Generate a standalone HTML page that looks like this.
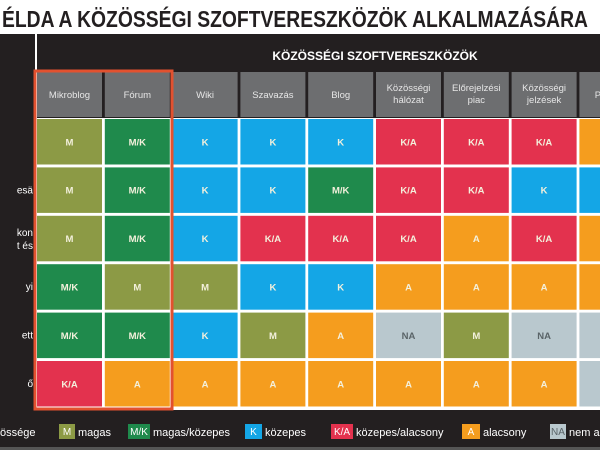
<!DOCTYPE html>
<html><head><meta charset="utf-8"><style>
html,body{margin:0;padding:0;background:#fff;}
svg{display:block;font-family:"Liberation Sans",sans-serif;}
</style></head><body>
<svg id="c" width="600" height="450" viewBox="0 0 600 450">
<rect x="0" y="0" width="600" height="450" fill="#fff"/>
<text x="2" y="27" font-size="23" font-weight="bold" fill="#231f20" textLength="586" lengthAdjust="spacingAndGlyphs">ÉLDA A KÖZÖSSÉGI SZOFTVERESZKÖZÖK ALKALMAZÁSÁRA</text>
<rect x="0" y="34" width="600" height="84" fill="#231f20"/>
<rect x="0" y="118" width="35" height="292" fill="#231f20"/>
<rect x="35" y="34" width="2" height="84" fill="#fff"/>
<text x="375" y="60" font-size="12" font-weight="bold" fill="#fff" text-anchor="middle">KÖZÖSSÉGI SZOFTVERESZKÖZÖK</text>
<g id="cells"></g>
<rect x="0" y="410" width="600" height="40" fill="#231f20"/>
<rect x="0" y="447" width="600" height="3" fill="#555"/>
<g id="legend"></g>
<rect x="35" y="71" width="137" height="338" fill="none" stroke="#e2512f" stroke-width="3"/>
</svg>
<script>
const columns = ["Mikroblog","Fórum","Wiki","Szavazás","Blog","Közösségi|hálózat","Előrejelzési|piac","Közösségi|jelzések","Podcast"];
const rowLabels = ["","esä","kon|t és","yi","ett","ő"];
const ratings = [
 ["M","M/K","K","K","K","K/A","K/A","K/A","A"],
 ["M","M/K","K","K","M/K","K/A","K/A","K","K"],
 ["M","M/K","K","K/A","K/A","K/A","A","K/A","A"],
 ["M/K","M","M","K","K","A","A","A","A"],
 ["M/K","M/K","K","M","A","NA","M","NA","NA"],
 ["K/A","A","A","A","A","A","A","A","NA"]
];
const legendCodes = ["M","M/K","K","K/A","A","NA"];
const legendLabels = ["magas","magas/közepes","közepes","közepes/alacsony","alacsony","nem a"];
const colors = {"M":"#8c9a45","M/K":"#1f8a4c","K":"#14a6e6","K/A":"#e3324e","A":"#f59d1e","NA":"#b9c8ce"};
const textCol = {"NA":"#5a6468"};
const NS="http://www.w3.org/2000/svg";
const g=document.getElementById('cells');
function colX(i){return 37+i*67.8;}
function rowY(j){return 119+j*48.4;}
const cw=65, rh=45.5;
function mk(tag,attrs,parent){const e=document.createElementNS(NS,tag);for(const k in attrs)e.setAttribute(k,attrs[k]);parent.appendChild(e);return e;}
columns.forEach((c,i)=>{
  const r=mk('rect',{x:colX(i),y:72,width:cw,height:45,fill:'#6d6e70'},g);
  
  
  const parts=c.split('|');
  parts.forEach((p,k)=>{
    const t=mk('text',{x:colX(i)+cw/2,y:(parts.length==1?98:91)+k*12,'font-size':9.5,fill:'#e6e6e6','text-anchor':'middle'},g);
    t.textContent=p;
    
    
  });
});
rowLabels.forEach((l,j)=>{
  const parts=l.split('|');
  parts.forEach((p,k)=>{
    if(!p)return;
    const t=mk('text',{x:33,y:rowY(j)+(parts.length==1?26:20)+k*13,'font-size':10,fill:'#fff','text-anchor':'end'},g);
    t.textContent=p;
    
    
  });
});
ratings.forEach((row,j)=>{
  row.forEach((v,i)=>{
    const r=mk('rect',{x:colX(i),y:rowY(j),width:cw,height:rh,fill:colors[v]},g);
    
    
    const t=mk('text',{x:colX(i)+cw/2,y:rowY(j)+rh/2+3.5,'font-size':9.5,'font-weight':'bold',fill:textCol[v]||'#f3f0dc','text-anchor':'middle'},g);
    t.textContent=v;
    
    
  });
});
const lg=document.getElementById('legend');
const lt=mk('text',{x:0,y:436,'font-size':11,fill:'#fff'},lg);
lt.textContent='össége';


const lx=[59,128,245,331,462,550], lw=[16,22,17,22,18,16];
legendCodes.forEach((c,i)=>{
  const r=mk('rect',{x:lx[i],y:424,width:lw[i],height:15,fill:colors[c]},lg);
  
  
  const t=mk('text',{x:lx[i]+lw[i]/2,y:435,'font-size':10,fill:textCol[c]||'#fff','text-anchor':'middle'},lg);
  t.textContent=c;
  
  
  const t2=mk('text',{x:lx[i]+lw[i]+3,y:436,'font-size':11,fill:'#fff'},lg);
  t2.textContent=legendLabels[i];
  
  
});
</script>
</body></html>
